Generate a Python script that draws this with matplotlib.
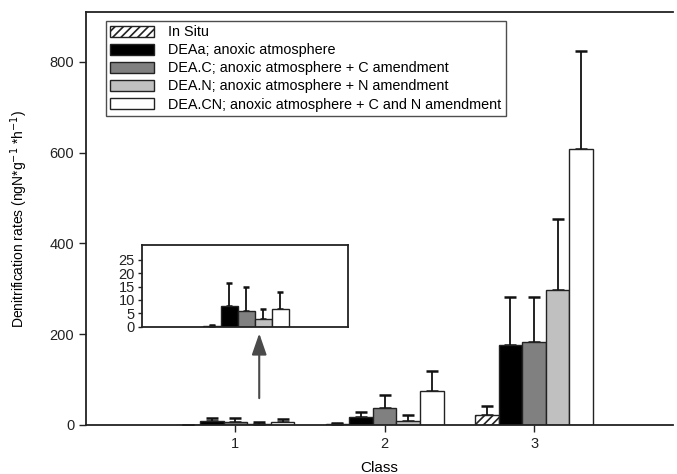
import matplotlib
matplotlib.use('agg')
import matplotlib.pyplot as plt
import numpy as np

classes = [1, 2, 3]
series = ['In Situ',
          'DEAa; anoxic atmosphere',
          'DEA.C; anoxic atmosphere + C amendment',
          'DEA.N; anoxic atmosphere + N amendment',
          'DEA.CN; anoxic atmosphere + C and N amendment']

# mean rates per class (1, 2, 3)
in_situ = [0.3, 3, 21]
dea_a = [7.7, 17, 176]
dea_c = [5.9, 37, 182]
dea_n = [2.8, 9, 297]
dea_cn = [6.6, 75, 609]

# upper error (SD)
in_situ_err = [0.4, 2, 21]
dea_a_err = [8.5, 12, 106]
dea_c_err = [9.1, 30, 100]
dea_n_err = [3.8, 13, 156]
dea_cn_err = [6.5, 45, 214]

values = [in_situ, dea_a, dea_c, dea_n, dea_cn]
errors = [in_situ_err, dea_a_err, dea_c_err, dea_n_err, dea_cn_err]
colors = ['white', 'black', '#808080', '#c0c0c0', 'white']
hatches = ['////', None, None, None, None]

plt.rcParams['font.family'] = ['Liberation Sans', 'DejaVu Sans']
plt.rcParams['hatch.linewidth'] = 1.2

fig = plt.figure(figsize=(6.77, 4.74), dpi=100)
ax = fig.add_axes([0.127, 0.1034, 0.867, 0.8716])

w = 0.158


def draw_bars(a, n, capw):
    x = np.array(classes[:n], dtype=float)
    for i in range(5):
        pos = x + (i - 2) * w
        a.bar(pos, values[i][:n], w, color=colors[i], edgecolor='#222222',
              linewidth=1.0, hatch=hatches[i], label=series[i], zorder=2)
        a.errorbar(pos, values[i][:n], yerr=[np.zeros(n), errors[i][:n]], fmt='none',
                   ecolor='#111111', elinewidth=1.3, capsize=capw, capthick=1.8,
                   zorder=1)


draw_bars(ax, 3, 4.5)
ax.set_xlim(0, 3.93)
ax.set_ylim(0, 910)
ax.set_xticks(classes)
ax.set_yticks([0, 200, 400, 600, 800])
ax.spines['right'].set_visible(False)
for s in ['left', 'bottom', 'top']:
    ax.spines[s].set_linewidth(1.3)
    ax.spines[s].set_color('#222222')
ax.tick_params(direction='out', length=5, width=1, labelsize=10.5, colors='#222222')
ax.set_xlabel('Class', fontsize=11, labelpad=7)
ax.set_ylabel('Denitrification rates (ngN*g$^{-1}$ *h$^{-1}$)', fontsize=10, labelpad=14)

leg = ax.legend(loc='upper left', bbox_to_anchor=(106 / 677, 1 - 21 / 474),
                bbox_transform=fig.transFigure, fontsize=10.4, frameon=True,
                fancybox=False, edgecolor='#222222', handlelength=3.0,
                handleheight=0.8, handletextpad=1.0, labelspacing=0.28,
                borderpad=0.3, borderaxespad=0)
leg.get_frame().set_linewidth(1.0)

# arrow pointing to the inset
ax.annotate('', xy=(1.16, 208), xytext=(1.16, 53),
            arrowprops=dict(arrowstyle='-|>,head_length=1.3,head_width=0.45',
                            color='#4a4a4a', lw=1.5))

# inset zoom of class 1
ins = fig.add_axes([0.2093, 0.3108, 0.3047, 0.1722])
draw_bars(ins, 1, 2.5)
ins.set_xlim(0.034, 1.94)
ins.set_ylim(0, 30.5)
ins.set_xticks([])
ins.set_yticks([0, 5, 10, 15, 20, 25])
for s in ins.spines.values():
    s.set_linewidth(1.3)
    s.set_color('#222222')
ins.tick_params(direction='out', length=3, width=1, labelsize=10.5, colors='#222222', pad=2)

fig.savefig('out.png', dpi=100)
